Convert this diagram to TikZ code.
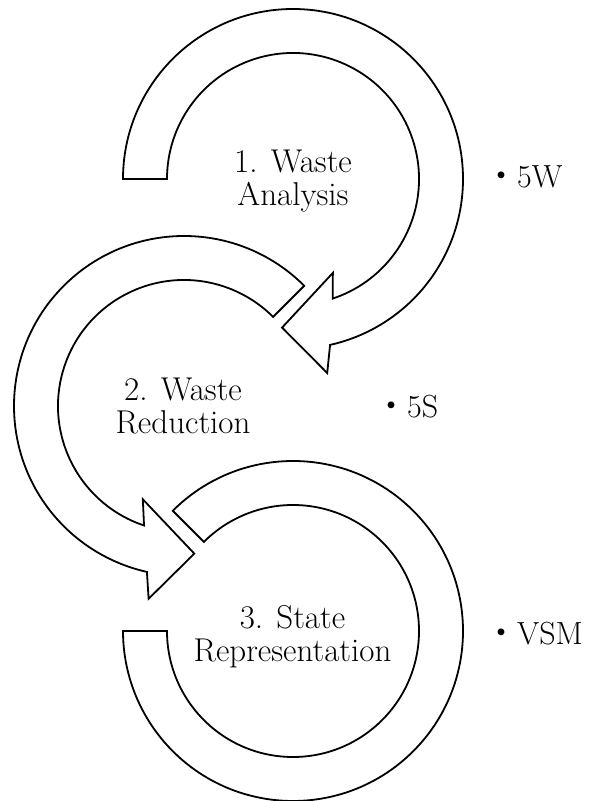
\documentclass[tikz,border=0pt]{standalone}
\usepackage{fontspec}
\newfontfamily\cjk{Noto Sans CJK JP}
\begin{document}
\begin{tikzpicture}[x=1pt,y=1pt,
  band/.style={draw=black, fill=white, line width=1.8pt, line join=miter},
  steplabel/.style={align=center, inner sep=0pt, anchor=base,
    font=\fontsize{33}{33.4}\selectfont},
  toollabel/.style={inner sep=0pt, anchor=base west,
    font=\fontsize{32}{34}\selectfont}]
\useasboundingbox (0,0) rectangle (589,801);

% centres of the three rings
\coordinate (c1) at (293,622);
\coordinate (c2) at (184,395);
\coordinate (c3) at (293,170);

% ring 1: clockwise from the left, head pointing into ring 2
\begin{scope}[shift={(c1)}]
  \draw[band] (180:170) arc[start angle=180, end angle=-77.4, radius=170]
    -- (-80:197) -- (-94.2:149) -- (-67:102) -- (-71.6:126)
    arc[start angle=-71.6, end angle=180, radius=126] -- cycle;
\end{scope}

% ring 2: counter-clockwise from the upper right, head pointing into ring 3
\begin{scope}[shift={(c2)}]
  \draw[band] (45:170) arc[start angle=45, end angle=257.4, radius=170]
    -- (259.6:196) -- (274:148) -- (246.2:102) -- (251.5:126)
    arc[start angle=251.5, end angle=45, radius=126] -- cycle;
\end{scope}

% ring 3: clockwise from the upper left, open end on the left
\begin{scope}[shift={(c3)}]
  \draw[band] (135:170) arc[start angle=135, end angle=-180, radius=170]
    -- (180:126) arc[start angle=-180, end angle=135, radius=126] -- cycle;
\end{scope}

% step names (anchored on the baseline of the second line)
\node[steplabel] (s1) at (293,595) {1. Waste\\Analysis};
\node[steplabel] (s2) at (183,367) {2. Waste\\Reduction};
\node[steplabel] (s3) at (292.5,139) {3. State\\Representation};

% tools
\node[toollabel] (t1) at (485,613) {{\cjk ・}5W};
\node[toollabel] (t2) at (375,383) {{\cjk ・}5S};
\node[toollabel] (t3) at (485,156) {{\cjk ・}VSM};
\end{tikzpicture}
\end{document}
